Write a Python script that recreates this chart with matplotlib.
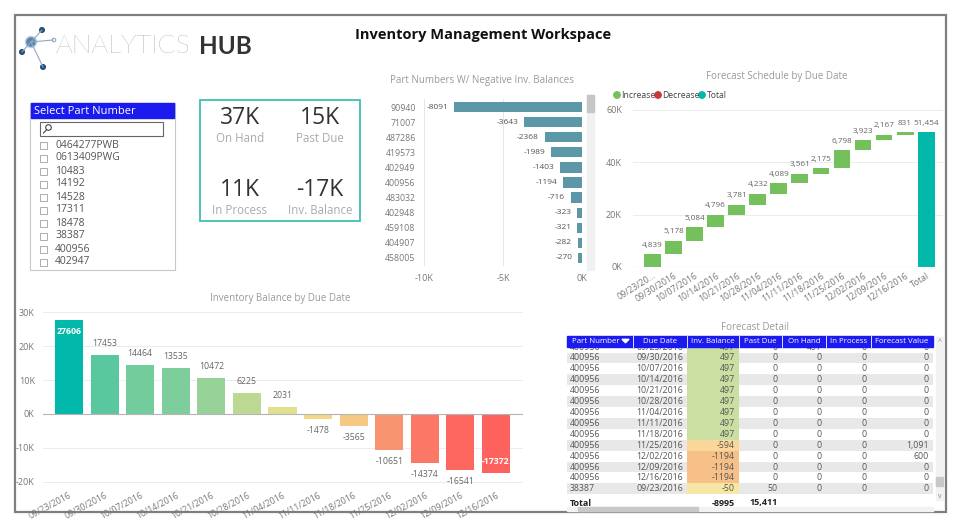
import matplotlib
matplotlib.use('Agg')
import matplotlib.pyplot as plt
from matplotlib.patches import Rectangle, Circle, Polygon
from matplotlib.colors import LinearSegmentedColormap
from matplotlib.lines import Line2D
import numpy as np

plt.rcParams['font.family'] = ['Open Sans', 'DejaVu Sans']

W, H = 960, 528

# ---------------- data ----------------
slicer_items = ['0464277PWB', '0613409PWG', '10483', '14192', '14528', '17311',
                '18478', '38387', '400956', '402947']

kpi_values = ['37K', '15K', '11K', '-17K']
kpi_labels = ['On Hand', 'Past Due', 'In Process', 'Inv. Balance']

neg_parts = ['90940', '71007', '487286', '419573', '402949', '400956', '483032',
             '402948', '459108', '404907', '458005']
neg_values = [-8091, -3643, -2368, -1989, -1403, -1194, -716, -323, -321, -282, -270]

due_dates = ['09/23/2016', '09/30/2016', '10/07/2016', '10/14/2016', '10/21/2016',
             '10/28/2016', '11/04/2016', '11/11/2016', '11/18/2016', '11/25/2016',
             '12/02/2016', '12/09/2016', '12/16/2016']

wf_ticklabels = ['09/23/20...', '09/30/2016', '10/07/2016', '10/14/2016', '10/21/2016',
                 '10/28/2016', '11/04/2016', '11/11/2016', '11/18/2016', '11/25/2016',
                 '12/02/2016', '12/09/2016', '12/16/2016', 'Total']
wf_values = [4839, 5178, 5084, 4796, 3781, 4232, 4089, 3561, 2175, 6798, 3923, 2167, 831]
wf_total = 51454

bal_values = [27606, 17453, 14464, 13535, 10472, 6225, 2031, -1478, -3565,
              -10651, -14374, -16541, -17372]

tbl_columns = ['Part Number', 'Due Date', 'Inv. Balance', 'Past Due', 'On Hand',
               'In Process', 'Forecast Value']
tbl_part = ['400956'] * 13 + ['38387']
tbl_date = ['09/23/2016', '09/30/2016', '10/07/2016', '10/14/2016', '10/21/2016',
            '10/28/2016', '11/04/2016', '11/11/2016', '11/18/2016', '11/25/2016',
            '12/02/2016', '12/09/2016', '12/16/2016', '09/23/2016']
tbl_inv = [497, 497, 497, 497, 497, 497, 497, 497, 497, -594, -1194, -1194, -1194, -50]
tbl_past = [0] * 13 + [50]
tbl_onhand = [497] + [0] * 13
tbl_inproc = [0] * 14
tbl_fc = ['0'] * 9 + ['1,091', '600', '0', '0', '0']
tbl_total = ['Total', '', '-8995', '15,411', '', '', '']

# ---------------- figure ----------------
fig = plt.figure(figsize=(9.6, 5.28), dpi=100)
fig.patch.set_facecolor('white')
bg = fig.add_axes([0, 0, 1, 1])
bg.set_xlim(0, W)
bg.set_ylim(H, 0)
bg.axis('off')


def px_axes(x0, y0, x1, y1):
    ax = fig.add_axes([x0 / W, 1 - y1 / H, (x1 - x0) / W, (y1 - y0) / H])
    ax.patch.set_alpha(0)
    for s in ax.spines.values():
        s.set_visible(False)
    ax.tick_params(length=0, labelsize=6.5, colors='#777777')
    return ax


GRAY_T = '#9a9a9a'

# frame
bg.add_patch(Rectangle((15, 15), 931, 497, fill=False, edgecolor='#7f7f7f', lw=1.6))

# logo
hub = (31, 42)
for p in [(42, 30), (22, 52), (43, 67), (53, 40)]:
    bg.add_line(Line2D([hub[0], p[0]], [hub[1], p[1]], color='#8fa9c4', lw=0.8))
bg.add_patch(Circle(hub, 5.5, color='#b9cde0'))
bg.add_patch(Circle(hub, 4, color='#5b84ad'))
for p in [(42, 30), (22, 52), (43, 67)]:
    bg.add_patch(Circle(p, 2.3, color='#1f4e79'))
bg.add_patch(Circle((54, 40), 1.8, fill=False, edgecolor='#8a9bb0', lw=0.7))
bg.text(55, 46, 'ANALYTICS', fontsize=19, color='#858585', va='center', ha='left',
        family=['Lato', 'DejaVu Sans'], fontweight='light')
bg.text(199, 46, 'HUB', fontsize=17.5, color='#333333', va='center', ha='left',
        family=['Lato', 'DejaVu Sans'], fontweight='bold')

bg.text(483, 35, 'Inventory Management Workspace', fontsize=10.5, fontweight='bold',
        color='#111111', ha='center', va='center')

# ---------------- slicer ----------------
BLUE = '#1b1bef'
bg.add_patch(Rectangle((30, 103), 145, 167, fill=False, edgecolor='#c8c8c8', lw=0.8))
bg.add_patch(Rectangle((31, 103), 143, 15, color=BLUE))
bg.text(34, 111, 'Select Part Number', color='white', fontsize=8, va='center', ha='left')
bg.add_patch(Rectangle((40, 122), 123, 14, fill=False, edgecolor='#666666', lw=0.8))
bg.add_patch(Circle((48.5, 127.5), 2.8, fill=False, edgecolor='#444444', lw=0.8))
bg.add_line(Line2D([46.5, 43.5], [129.8, 133], color='#444444', lw=0.8))
for i, item in enumerate(slicer_items):
    y = 145 + i * 13
    bg.add_patch(Rectangle((40, y - 3.5), 7, 7, fill=False, edgecolor='#a0a0a0', lw=0.6))
    bg.text(55, y, item, fontsize=7.5, color='#555555', va='center', ha='left')

# ---------------- KPI card ----------------
bg.add_patch(Rectangle((200, 100), 160, 121, fill=False, edgecolor='#40bfb2', lw=1.3))
kpi_pos = [(240, 118), (320, 118), (240, 190), (320, 190)]
for (x, y), v, lab in zip(kpi_pos, kpi_values, kpi_labels):
    bg.text(x, y, v, fontsize=16.5, color='#333333', ha='center', va='center')
    bg.text(x, y + 20.5, lab, fontsize=8.3, color='#aaaaaa', ha='center', va='center')

# ---------------- negative balances bar chart ----------------
bg.text(482, 81, 'Part Numbers W/ Negative Inv. Balances', fontsize=7, color=GRAY_T,
        ha='center', va='center')
ax1 = px_axes(424, 99, 582, 266)
ypos = np.arange(len(neg_parts))
ax1.barh(ypos, neg_values, height=0.68, color='#5b97a7')
ax1.set_xlim(-10000, 0)
ax1.set_ylim(len(neg_parts) - 0.47, -0.53)
ax1.set_yticks(ypos)
ax1.set_yticklabels(neg_parts, fontsize=6.3)
ax1.set_xticks([-10000, -5000, 0])
ax1.set_xticklabels(['-10K', '-5K', '0K'], fontsize=6.5)
ax1.tick_params(axis='x', pad=6)
ax1.tick_params(axis='y', pad=6)
ax1.grid(axis='x', color='#e6e6e6', lw=0.7)
ax1.set_axisbelow(True)
for yv, v in zip(ypos, neg_values):
    ax1.annotate(f'{v}', (v, yv), xytext=(-4, 0), textcoords='offset points',
                 ha='right', va='center', fontsize=6, color='#555555')
# scrollbar
bg.add_patch(Rectangle((587, 95), 7, 175, color='#f1f1f1'))
bg.add_patch(Rectangle((587, 95), 7, 17, color='#c6c6c6'))

# ---------------- waterfall ----------------
bg.text(777, 77, 'Forecast Schedule by Due Date', fontsize=7, color=GRAY_T,
        ha='center', va='center')
ax2 = px_axes(633, 105, 943, 267)
n = len(wf_values)
cum = np.concatenate([[0], np.cumsum(wf_values)])
xw = np.arange(n + 1)
ax2.bar(xw[:n], wf_values, bottom=cum[:n], width=0.8, color='#74c05c')
ax2.bar(xw[n], wf_total, width=0.8, color='#01b8aa')
ax2.set_xlim(-0.93, n + 0.8)
ax2.set_ylim(0, 61900)
ax2.set_yticks([0, 20000, 40000, 60000])
ax2.set_yticklabels(['0K', '20K', '40K', '60K'], fontsize=6.5)
ax2.tick_params(axis='y', pad=8)
ax2.set_xticks(xw)
ax2.set_xticklabels(wf_ticklabels, rotation=32, ha='right', rotation_mode='anchor',
                    fontsize=6.3)
ax2.tick_params(axis='x', pad=3)
ax2.grid(axis='y', color='#ececec', lw=0.7)
ax2.set_axisbelow(True)
ax2.axhline(0, color='#bbbbbb', lw=0.8)
for i, v in enumerate(wf_values):
    ax2.annotate(f'{v:,}', (i, cum[i + 1]), xytext=(0, 4), textcoords='offset points',
                 ha='center', va='bottom', fontsize=5.9, color='#666666')
ax2.annotate(f'{wf_total:,}', (n, wf_total), xytext=(0, 4), textcoords='offset points',
             ha='center', va='bottom', fontsize=5.9, color='#666666')
# legend
leg = [('Increase', '#74c05c', 617), ('Decrease', '#c9383a', 658), ('Total', '#01b8aa', 702)]
for lab, col, x in leg:
    bg.add_patch(Circle((x, 95), 3.2, color=col))
    bg.text(x + 4.5, 95.3, lab, fontsize=6.2, color='#444444', ha='left', va='center')

# ---------------- inventory balance by due date ----------------
bg.text(280, 298, 'Inventory Balance by Due Date', fontsize=7, color=GRAY_T,
        ha='center', va='center')
ax3 = px_axes(43, 310, 523, 485)
vmin, vmax = min(bal_values), max(bal_values)
c0 = -vmin / (vmax - vmin)
cmap = LinearSegmentedColormap.from_list(
    'div', [(0, '#fd625e'), (c0, '#f3e38d'), (1, '#01b8aa')])
colors = [cmap((v - vmin) / (vmax - vmin)) for v in bal_values]
xb = np.arange(len(bal_values))
ax3.bar(xb, bal_values, width=0.79, color=colors)
ax3.set_xlim(-0.73, len(bal_values) - 0.24)
ax3.set_ylim(-20900, 30600)
ax3.set_yticks([-20000, -10000, 0, 10000, 20000, 30000])
ax3.set_yticklabels(['-20K', '-10K', '0K', '10K', '20K', '30K'], fontsize=6.5)
ax3.tick_params(axis='y', pad=6)
ax3.set_xticks(xb)
ax3.set_xticklabels(due_dates, rotation=28, ha='right', rotation_mode='anchor', fontsize=6.3)
ax3.tick_params(axis='x', pad=4)
ax3.grid(axis='y', color='#ececec', lw=0.7)
ax3.set_axisbelow(True)
ax3.axhline(0, color='#b5b5b5', lw=0.8)
for x, v in zip(xb, bal_values):
    inside = v == vmax or v == vmin
    if inside:
        off = -5 if v > 0 else 5
        ax3.annotate(f'{v}', (x, v), xytext=(0, off), textcoords='offset points',
                     ha='center', va='top' if v > 0 else 'bottom', fontsize=6.3,
                     color='white', fontweight='bold')
    else:
        off = 5 if v > 0 else -5
        ax3.annotate(f'{v}', (x, v), xytext=(0, off), textcoords='offset points',
                     ha='center', va='bottom' if v > 0 else 'top', fontsize=6.3,
                     color='#666666')

# ---------------- table ----------------
bg.text(755, 327, 'Forecast Detail', fontsize=7, color=GRAY_T, ha='center', va='center')
col_x = [567, 633, 687, 739, 782, 826, 871, 933]
row_h = 10.9
row0 = 347.1
body_clip = Rectangle((col_x[0], 346.5), col_x[-1] - col_x[0], 160,
                      transform=bg.transData, fill=False, lw=0)
inv_cmap = LinearSegmentedColormap.from_list(
    'inv', [(0, '#f7c088'), (0.63, '#fce8a6'), (1, '#cbdfa2')])
imin, imax = min(tbl_inv), max(tbl_inv)
rows = list(zip(tbl_part, tbl_date, tbl_inv, tbl_past, tbl_onhand, tbl_inproc, tbl_fc))
for r, row in enumerate(rows):
    yc = row0 + r * row_h
    if r % 2 == 1:
        bg.add_patch(Rectangle((col_x[0], yc - row_h / 2), col_x[-1] - col_x[0], row_h,
                               color='#e8e8e8', lw=0))
    t = (row[2] - imin) / (imax - imin)
    bg.add_patch(Rectangle((col_x[2], yc - row_h / 2), col_x[3] - col_x[2], row_h,
                           color=inv_cmap(t), lw=0))
    for c, val in enumerate(row):
        if c == 0:
            tx = bg.text(col_x[0] + 3, yc, str(val), fontsize=6.3, color='#555555',
                         ha='left', va='center')
        else:
            tx = bg.text(col_x[c + 1] - 4, yc, str(val), fontsize=6.3, color='#555555',
                         ha='right', va='center')
        if r == 0:
            tx.set_clip_path(body_clip)
# white strip to hide partial row above header
bg.add_patch(Rectangle((col_x[0], 333), col_x[-1] - col_x[0], 4, color='white', zorder=4))
# header
bg.add_patch(Rectangle((col_x[0], 336), col_x[-1] - col_x[0], 10.5, color=BLUE, zorder=5))
for c, name in enumerate(tbl_columns):
    if c > 0:
        bg.add_line(Line2D([col_x[c], col_x[c]], [336, 346.5], color='white', lw=0.6,
                           zorder=6))
    if c == 0:
        bg.text(col_x[0] + 5, 341.3, name, fontsize=5.7, color='white', ha='left',
                va='center', zorder=7)
        bg.add_patch(Polygon([[622, 339.3], [629, 339.3], [625.5, 342.8]], color='white',
                             zorder=7))
    else:
        bg.text((col_x[c] + col_x[c + 1]) / 2, 341.3, name, fontsize=5.7, color='white',
                ha='center', va='center', zorder=7)
# total row
yt = 503
for c, val in enumerate(tbl_total):
    if not val:
        continue
    if c == 0:
        bg.text(col_x[0] + 3, yt, val, fontsize=6.5, color='#222222', fontweight='bold',
                ha='left', va='center')
    else:
        bg.text(col_x[c + 1] - 4, yt, val, fontsize=6.5, color='#222222', fontweight='bold',
                ha='right', va='center')
# scrollbars
bg.add_patch(Rectangle((936, 337), 7, 163, color='#f2f2f2'))
bg.add_patch(Rectangle((936, 477), 7, 9, color='#c8c8c8'))
bg.text(939.5, 342, '^', fontsize=5, color='#888888', ha='center', va='center')
bg.text(939.5, 496, 'v', fontsize=5, color='#888888', ha='center', va='center')
bg.add_patch(Rectangle((567, 507), 366, 4, color='#f2f2f2'))
bg.add_patch(Rectangle((578, 507), 120, 4, color='#c8c8c8'))

fig.savefig('out.png', dpi=100, facecolor='white')
